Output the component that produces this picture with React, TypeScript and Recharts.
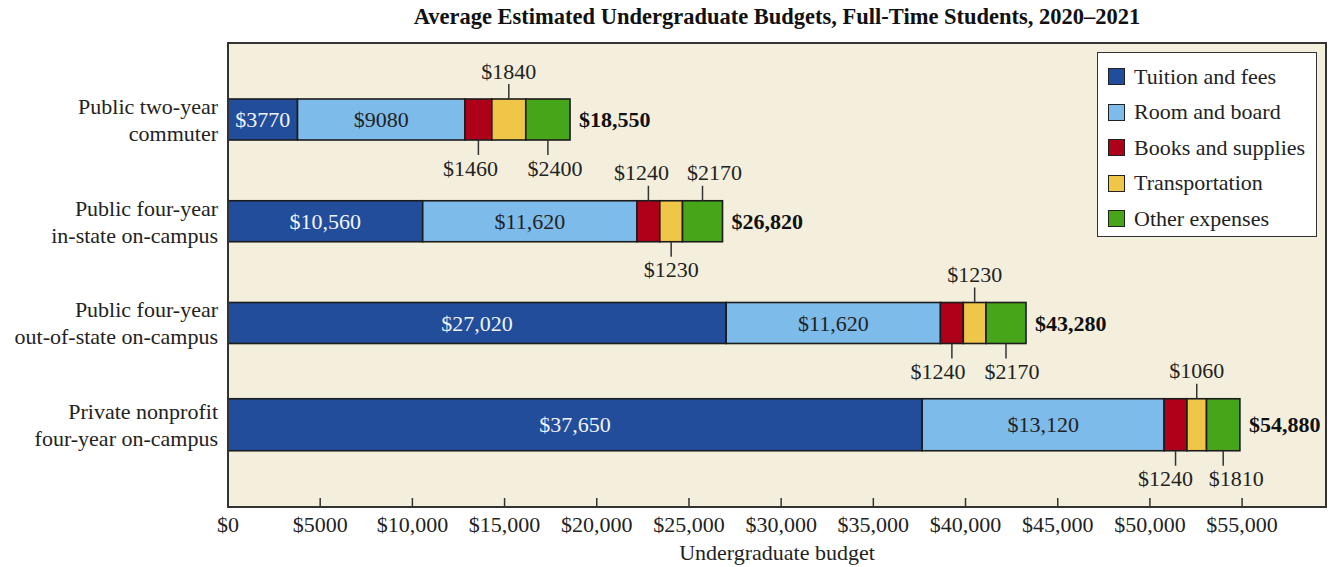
import { BarChart, Bar, XAxis, YAxis, CartesianGrid, Legend, LabelList } from "recharts";

// category labels (two lines each)
const categories = [
  "Public two-year\ncommuter",
  "Public four-year\nin-state on-campus",
  "Public four-year\nout-of-state on-campus",
  "Private nonprofit\nfour-year on-campus",
];

const tuition = [3770, 10560, 27020, 37650];
const room = [9080, 11620, 11620, 13120];
const books = [1460, 1240, 1240, 1240];
const transport = [1840, 1230, 1230, 1060];
const other = [2400, 2170, 2170, 1810];
const totals = [18550, 26820, 43280, 54880];

const xTicks = [0, 5000, 10000, 15000, 20000, 25000, 30000, 35000, 40000, 45000, 50000, 55000];

// where each segment's label goes, per row
const tuitionPos = ["inside", "inside", "inside", "inside"];
const roomPos = ["inside", "inside", "inside", "inside"];
const booksPos = ["below", "above", "below", "below"];
const transportPos = ["above", "below", "above", "above"];
const otherPos = ["below", "above", "below", "below"];

// small sideways nudges so neighbouring outside labels don't collide
const booksNudge = [-8, -7, -14, -10];
const transportNudge = [0, 0, 0, 0];
const otherNudge = [7, 12, 6, 13];
const noNudge = [0, 0, 0, 0];

const FONT = "'Liberation Serif', 'Times New Roman', serif";
const INK = "#222";
const X_MAX = 59550;
const TALL_ROW = 3;
const TALL_EXTRA = 5.5;

const rows = categories.map((cat, i) => ({
  cat,
  tuition: tuition[i],
  room: room[i],
  books: books[i],
  transport: transport[i],
  other: other[i],
  total: totals[i],
}));

const series = [
  { key: "tuition", name: "Tuition and fees", color: "#214d9b", text: "#f2f4fa", pos: tuitionPos, nudge: noNudge },
  { key: "room", name: "Room and board", color: "#7dbbea", text: INK, pos: roomPos, nudge: noNudge },
  { key: "books", name: "Books and supplies", color: "#ae0119", text: INK, pos: booksPos, nudge: booksNudge },
  { key: "transport", name: "Transportation", color: "#efc647", text: INK, pos: transportPos, nudge: transportNudge },
  { key: "other", name: "Other expenses", color: "#47a51a", text: INK, pos: otherPos, nudge: otherNudge },
];

const money = (v: number) => (v >= 10000 ? "$" + v.toLocaleString("en-US") : "$" + v);

const segShape = (props: any) => {
  const { x, y, width, height, fill, index } = props;
  const ext = index === TALL_ROW ? TALL_EXTRA : 0;
  return (
    <rect
      x={x}
      y={y - ext}
      width={width}
      height={height + ext * 2}
      fill={fill}
      stroke="#1c1c1c"
      strokeWidth={1.6}
    />
  );
};

const makeLabel = (pos: string[], nudge: number[], textColor: string) => (props: any) => {
  const x = Number(props.x);
  const y = Number(props.y);
  const w = Number(props.width);
  const h = Number(props.height);
  const idx = props.index;
  const ext = idx === TALL_ROW ? TALL_EXTRA : 0;
  const cx = x + w / 2;
  const p = pos[idx];
  const txt = money(Number(props.value));
  if (p === "inside") {
    return (
      <text x={cx} y={y + h / 2} textAnchor="middle" dominantBaseline="central" fontSize={22} fontFamily={FONT} fill={textColor}>
        {txt}
      </text>
    );
  }
  const edge = p === "above" ? y - ext : y + h + ext;
  const dir = p === "above" ? -1 : 1;
  return (
    <g>
      <line x1={cx} x2={cx} y1={edge} y2={edge + dir * 15} stroke="#333" strokeWidth={1.5} />
      <text x={cx + nudge[idx]} y={edge + dir * 28} textAnchor="middle" dominantBaseline="central" fontSize={22} fontFamily={FONT} fill={INK}>
        {txt}
      </text>
    </g>
  );
};

const totalLabel = (props: any) => {
  const x = Number(props.x) + Number(props.width) + 9;
  const y = Number(props.y) + Number(props.height) / 2;
  return (
    <text x={x} y={y} dominantBaseline="central" fontSize={22} fontWeight="bold" fontFamily={FONT} fill="#111">
      {money(Number(props.value))}
    </text>
  );
};

const CatTick = (props: any) => {
  const { x, y, payload } = props;
  const lines = String(payload.value).split("\n");
  return (
    <g>
      {lines.map((l, i) => (
        <text key={i} x={x} y={y + (i - (lines.length - 1) / 2) * 27} textAnchor="end" dominantBaseline="central" fontSize={22} fontFamily={FONT} fill={INK}>
          {l}
        </text>
      ))}
    </g>
  );
};

const MoneyTick = (props: any) => {
  const { x, y, payload } = props;
  const v = Number(payload.value);
  return (
    <g>
      {v > 0 && <line x1={x} x2={x} y1={y} y2={y - 9} stroke="#333" strokeWidth={1.5} />}
      <text x={x} y={y + 17} textAnchor="middle" dominantBaseline="central" fontSize={22} fontFamily={FONT} fill={INK}>
        {money(v)}
      </text>
    </g>
  );
};

const LegendBox = () => (
  <div
    style={{
      background: "#fff",
      border: "1.5px solid #333",
      width: 220,
      height: 185,
      boxSizing: "border-box",
      padding: "6px 0 0 10px",
      fontFamily: FONT,
      fontSize: 22,
      color: INK,
    }}
  >
    {series.map((s) => (
      <div key={s.key} style={{ display: "flex", alignItems: "center", height: 35.5 }}>
        <span
          style={{
            display: "inline-block",
            width: 15,
            height: 15,
            background: s.color,
            border: "1.5px solid #222",
            marginRight: 9,
          }}
        />
        <span style={{ lineHeight: 1 }}>{s.name}</span>
      </div>
    ))}
  </div>
);

export default function App() {
  return (
    <div style={{ position: "relative", width: 1341, height: 567, background: "#fff" }}>
      <style>{`body{margin:0;}`}</style>
      <div
        style={{
          position: "absolute",
          left: 228,
          width: 1098,
          top: 4,
          textAlign: "center",
          fontFamily: FONT,
          fontWeight: "bold",
          fontSize: 22.5,
          color: "#111",
        }}
      >
        Average Estimated Undergraduate Budgets, Full-Time Students, 2020–2021
      </div>
      <BarChart
        width={1341}
        height={567}
        data={rows}
        layout="vertical"
        barSize={41}
        margin={{ top: 43, right: 15, bottom: 0, left: 8 }}
      >
        <CartesianGrid horizontal={false} vertical={false} fill="#f4efdc" />
        <XAxis
          type="number"
          domain={[0, X_MAX]}
          ticks={xTicks}
          allowDataOverflow
          height={60}
          tickLine={false}
          tickSize={0}
          tickMargin={0}
          tick={<MoneyTick />}
          axisLine={{ stroke: "#333", strokeWidth: 2 }}
          label={{ value: "Undergraduate budget", position: "insideBottom", offset: 7, fontSize: 22, fontFamily: FONT, fill: INK }}
        />
        <YAxis
          type="category"
          dataKey="cat"
          width={220}
          padding={{ top: 26, bottom: 31 }}
          tickLine={false}
          tickSize={0}
          tickMargin={10}
          tick={<CatTick />}
          axisLine={{ stroke: "#333", strokeWidth: 2 }}
        />
        <Legend
          layout="vertical"
          align="center"
          verticalAlign="middle"
          wrapperStyle={{ left: 1097, top: 52, width: 220 }}
          content={() => <LegendBox />}
        />
        {series.map((s) => (
          <Bar
            key={s.key}
            dataKey={s.key}
            name={s.name}
            stackId="budget"
            fill={s.color}
            shape={segShape}
            isAnimationActive={false}
          >
            <LabelList dataKey={s.key} content={makeLabel(s.pos, s.nudge, s.text)} />
            {s.key === "other" && <LabelList dataKey="total" content={totalLabel} />}
          </Bar>
        ))}
      </BarChart>
      {/* plot frame */}
      <div
        style={{
          position: "absolute",
          left: 227,
          top: 42,
          width: 1100,
          height: 466,
          boxSizing: "border-box",
          border: "2px solid #333",
          pointerEvents: "none",
        }}
      />
    </div>
  );
}
